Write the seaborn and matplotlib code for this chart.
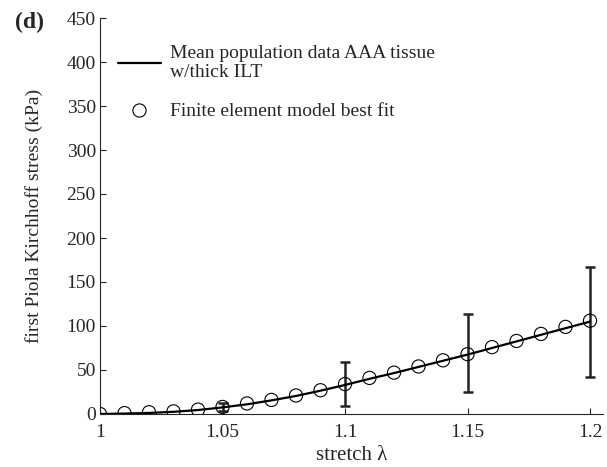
import numpy as np, pandas as pd
import matplotlib; matplotlib.use("Agg")
import matplotlib.pyplot as plt
from matplotlib.lines import Line2D
import seaborn as sns

# mean population curve (AAA tissue w/thick ILT)
stretch = [1.00, 1.01, 1.02, 1.03, 1.04, 1.05, 1.06, 1.07, 1.08, 1.09, 1.10,
           1.11, 1.12, 1.13, 1.14, 1.15, 1.16, 1.17, 1.18, 1.19, 1.20]
mean_stress = [0, 0.5, 1.2, 2.5, 4.5, 7.5, 11, 15.5, 20.5, 26.5, 33,
               40, 46.5, 53.5, 60.5, 67.5, 75, 82.5, 90, 97.5, 105]
# FE model best fit
fe_stretch = stretch
fe_stress = [0, 1, 2, 3, 5, 8, 12, 16, 21, 27, 34,
             41, 47, 54, 61, 68, 76, 83, 91, 99, 106]
# error bars on population data
eb_stretch = [1.05, 1.10, 1.15, 1.20]
eb_mean = [8, 34, 68, 106]
eb_low = [3, 9, 25, 42]
eb_high = [12, 59, 114, 167]

sns.set_style("ticks")
plt.rcParams['font.family'] = ['Liberation Serif', 'DejaVu Serif']

fig = plt.figure(figsize=(6.07, 4.67), dpi=100)
ax = fig.add_axes([100/607, 53/467, 503/607, 396/467])

sns.lineplot(x=stretch, y=mean_stress, ax=ax, color='black', lw=1.6, zorder=3)
ax.errorbar(eb_stretch, eb_mean,
            yerr=[np.subtract(eb_mean, eb_low), np.subtract(eb_high, eb_mean)],
            fmt='none', ecolor='#222222', elinewidth=1.8, capsize=3.3, capthick=1.8, zorder=2)
sns.scatterplot(x=fe_stretch, y=fe_stress, ax=ax, marker='o', s=90,
                facecolor='none', edgecolor='black', linewidth=0.8, zorder=4)

ax.set_xlim(1, 1.2053)
ax.set_ylim(0, 450)
ax.set_xticks([1, 1.05, 1.1, 1.15, 1.2])
ax.set_xticklabels(['1', '1.05', '1.1', '1.15', '1.2'])
ax.set_yticks(range(0, 451, 50))
ax.tick_params(direction='in', labelsize=14, length=4, width=0.8)
ax.tick_params(axis='x', pad=7)
ax.tick_params(axis='y', pad=3)
ax.set_xlabel('stretch λ', fontsize=15, labelpad=4)
ax.set_ylabel('first Piola Kirchhoff stress (kPa)', fontsize=14, labelpad=17)
sns.despine(ax=ax)
for s in ['left', 'bottom']:
    ax.spines[s].set_linewidth(0.8)

handles = [Line2D([], [], color='black', lw=1.6),
           Line2D([], [], marker='o', ls='none', mfc='none', mec='black', ms=9.5, mew=0.8)]
ax.legend(handles, ['Mean population data AAA tissue\nw/thick ILT', 'Finite element model best fit'],
          loc='upper left', bbox_to_anchor=(0.02, 0.952), frameon=False, fontsize=14,
          handlelength=2.2, labelspacing=1.1, handletextpad=0.5, borderaxespad=0)

fig.text(15/607, 1 - 22/467, '(d)', fontsize=17, fontweight='bold', va='center')
fig.savefig('out.png', dpi=100)
